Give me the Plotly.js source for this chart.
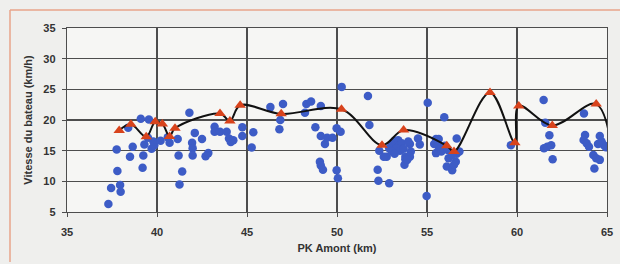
<!DOCTYPE html>
<html>
<head>
<meta charset="utf-8">
<script src="https://cdn.plot.ly/plotly-3.0.1.min.js"></script>
<style>
html,body{margin:0;padding:0;background:#efefed;}
#chart{width:620px;height:264px;}
</style>
</head>
<body>
<div id="chart"></div>
<script>
// Measured boat speeds (blue dots)
var measuredX = [
  37.3,37.45,37.95,37.98,37.8,37.76,38.4,39.1,39.55,38.65,38.5,39.24,39.3,39.2,39.7,39.85,39.8,39.5,40.2,40.6,40.7,41.15,41.2,41.4,41.25,
  41.8,42.1,41.95,41.98,41.98,42.5,42.7,42.85,
  43.2,43.2,43.5,43.87,44.0,44.1,44.24,44.74,44.74,45.35,45.26,
  46.3,47.0,46.85,46.8,48.3,48.56,48.22,49.1,48.8,49.1,49.33,49.45,49.75,49.98,50.2,49.05,49.1,49.22,49.98,50.05,50.26,51.72,51.8,
  52.35,52.26,52.3,52.9,52.76,52.6,52.9,53.04,53.1,53.2,53.4,53.5,53.6,53.3,53.5,53.7,53.04,53.2,53.8,53.8,53.75,54.05,54.1,53.96,54.05,53.9,54.5,54.6,
  55.04,54.98,55.96,55.5,55.65,55.4,55.6,55.7,55.5,55.8,56.0,56.15,56.2,56.1,56.4,56.6,56.65,56.8,56.65,56.4,56.5,
  59.66,61.48,61.57,61.8,61.5,61.68,61.9,61.98,
  63.72,63.78,63.7,63.87,64.0,64.24,64.4,64.6,64.3,64.6,64.7,64.83,64.94,64.5
];
var measuredY = [
  6.3,8.9,9.4,8.3,11.7,15.2,18.75,20.2,20.1,15.65,14.0,14.2,16.0,12.2,15.3,15.9,16.5,17.1,16.6,17.2,16.3,16.9,14.2,11.6,9.5,
  21.2,17.9,16.3,15.4,14.2,16.9,14.1,14.6,
  18.9,18.1,18.1,18.1,17.0,16.4,16.7,18.8,17.4,18.0,15.5,
  22.1,22.6,20.0,18.5,22.6,23.0,21.2,22.3,18.8,17.4,16.1,17.1,17.1,18.65,18.1,13.2,12.6,11.9,11.8,10.5,25.4,23.9,19.2,
  15.0,11.9,10.1,9.7,14.0,14.0,15.4,15.9,16.3,16.6,16.7,16.0,16.2,15.4,15.0,15.3,14.85,14.5,14.0,13.6,12.7,16.1,14.85,16.5,14.0,13.5,17.0,16.0,
  22.8,7.6,20.45,16.9,16.9,16.1,15.9,15.2,14.6,14.85,15.8,15.1,13.75,12.4,11.8,13.2,14.5,14.85,17.0,14.3,12.7,
  15.9,23.25,19.55,17.5,15.4,15.65,15.9,13.6,
  21.05,17.55,16.75,16.2,15.65,14.3,13.75,13.5,12.1,17.4,16.5,15.9,15.55,16.1
];
// Reference speeds (red triangles, smoothed black line); last point lies past the axis end
var refX = [37.9,38.55,39.4,39.9,40.3,40.7,41.0,43.5,44.05,44.62,46.9,50.25,52.5,53.7,56.1,56.5,58.5,59.88,60.1,61.96,64.4,65.35];
var refY = [18.3,19.3,17.25,19.7,19.35,17.3,18.65,21.05,19.85,22.4,21.0,21.75,15.9,18.35,15.8,14.85,24.5,16.3,22.3,19.1,22.6,13.0];

var xTicks = [35,40,45,50,55,60,65];
var yTicks = [5,10,15,20,25,30,35];
var xTitle = 'PK Amont (km)';
var yTitle = 'Vitesse du bateau (km/h)';

var traces = [
  {
    x: measuredX, y: measuredY, type: 'scatter', mode: 'markers',
    marker: {color: '#3d5cc6', size: 8.5, line: {width: 0}},
    hoverinfo: 'x+y', showlegend: false
  },
  {
    x: refX, y: refY, type: 'scatter', mode: 'lines+markers',
    line: {color: '#111111', width: 2, shape: 'spline', smoothing: 1},
    marker: {symbol: 'triangle-up', color: '#d8431c', size: 10, line: {width: 0}},
    cliponaxis: true, showlegend: false
  }
];

var axFont = {family: 'Arial, Liberation Sans, sans-serif', size: 11, color: '#333333', weight: 'bold'};

var layout = {
  width: 620, height: 264,
  margin: {l: 67, r: 13, t: 28, b: 52},
  paper_bgcolor: '#efefed',
  plot_bgcolor: '#f6f6f4',
  showlegend: false,
  xaxis: {
    range: [35, 65], tickvals: xTicks, ticktext: xTicks.map(String),
    showgrid: true, gridcolor: '#4d4d4d', gridwidth: 1.2,
    showline: true, linecolor: '#4d4d4d', linewidth: 1.2, mirror: true,
    ticks: 'outside', ticklen: 4, tickcolor: '#4d4d4d',
    ticklabelstandoff: 6,
    zeroline: false, tickfont: axFont,
    title: {text: xTitle, font: axFont, standoff: 6}
  },
  yaxis: {
    range: [5, 35], tickvals: yTicks, ticktext: yTicks.map(String),
    showgrid: true, gridcolor: '#4d4d4d', gridwidth: 1.2,
    showline: true, linecolor: '#4d4d4d', linewidth: 1.2, mirror: true,
    ticks: 'outside', ticklen: 4, tickcolor: '#4d4d4d',
    ticklabelstandoff: 4,
    zeroline: false, tickfont: axFont,
    title: {text: yTitle, font: axFont, standoff: 8}
  },
  shapes: [
    {type: 'line', xref: 'paper', yref: 'paper', x0: (10-67)/540, x1: (620-67)/540, y0: (264-52-10)/184, y1: (264-52-10)/184, line: {color: '#e9a58a', width: 1.5}},
    {type: 'line', xref: 'paper', yref: 'paper', x0: (10-67)/540, x1: (10-67)/540, y0: (264-52-10)/184, y1: (264-52-262)/184, line: {color: '#e9a58a', width: 1.5}}
  ]
};

Plotly.newPlot('chart', traces, layout, {displayModeBar: false, staticPlot: true});
</script>
</body>
</html>
